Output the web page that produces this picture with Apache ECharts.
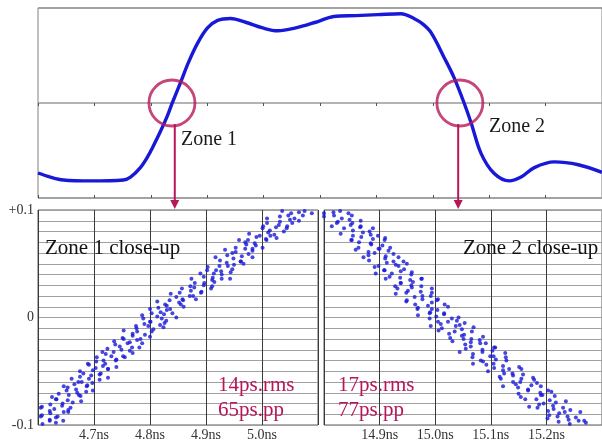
<!DOCTYPE html>
<html><head><meta charset="utf-8">
<script src="https://cdn.jsdelivr.net/npm/echarts@6/dist/echarts.min.js"></script>
<style>html,body{margin:0;padding:0;background:#fff}#c{width:602px;height:444px}</style>
</head><body><div id="c"></div><script>
// ---- data ----
const waveT = [0, 0.44, 0.9, 1.86, 3.03, 3.28, 3.63, 3.9, 4.06, 4.34, 4.58, 4.76, 5.06, 5.34, 5.66, 6.01, 6.37, 6.83, 7.36, 7.97, 8.5, 9.14, 9.85, 10.49, 11.27, 12.05, 12.87, 13.33, 13.65, 13.94, 14.4, 14.75, 15.11, 15.36, 15.71, 16.17, 16.71, 17.13, 17.6, 18.31, 19.16, 20];
const waveV = [-0.737, -0.78, -0.81, -0.82, -0.81, -0.78, -0.68, -0.56, -0.47, -0.3, -0.14, 0, 0.22, 0.43, 0.63, 0.79, 0.87, 0.89, 0.85, 0.79, 0.76, 0.79, 0.85, 0.91, 0.92, 0.93, 0.94, 0.89, 0.83, 0.74, 0.48, 0.27, 0, -0.21, -0.53, -0.74, -0.82, -0.78, -0.68, -0.62, -0.65, -0.73];
const zoneCenters = [4.75, 14.96];
const arrowX = [4.85, 14.9];
const zoneNames = ['Zone 1', 'Zone 2'];
const closeUpTitles = ['Zone 1 close-up', 'Zone 2 close-up'];
const jitterRms = ['14ps.rms', '17ps.rms'];
const jitterPp = ['65ps.pp', '77ps.pp'];
const yTickLabels = ['-0.1', '0', '+0.1'];
const zone1Range = [4.6, 5.1];
const zone2Range = [14.8, 15.3];

const zone1Points = [
[4.591,-0.097],[4.608,-0.099],[4.621,-0.096],[4.632,-0.098],
[4.590,-0.094],[4.605,-0.092],[4.621,-0.095],[4.632,-0.093],[4.645,-0.096],
[4.607,-0.091],[4.622,-0.089],[4.635,-0.092],[4.654,-0.088],
[4.605,-0.084],[4.621,-0.087],[4.629,-0.085],[4.646,-0.088],[4.654,-0.086],
[4.607,-0.083],[4.622,-0.081],[4.643,-0.082],[4.658,-0.084],
[4.633,-0.076],[4.644,-0.080],[4.653,-0.077],[4.662,-0.079],[4.677,-0.078],
[4.625,-0.074],[4.632,-0.076],[4.655,-0.072],[4.676,-0.073],
[4.637,-0.071],[4.651,-0.068],[4.670,-0.070],[4.673,-0.072],[4.686,-0.069],
[4.653,-0.065],[4.668,-0.067],[4.687,-0.064],[4.698,-0.068],
[4.646,-0.064],[4.665,-0.062],[4.672,-0.060],[4.688,-0.063],[4.697,-0.061],
[4.660,-0.057],[4.678,-0.060],[4.691,-0.057],[4.710,-0.058],
[4.675,-0.055],[4.681,-0.052],[4.695,-0.054],[4.710,-0.053],[4.725,-0.056],
[4.675,-0.050],[4.698,-0.049],[4.712,-0.052],[4.725,-0.048],
[4.691,-0.044],[4.703,-0.047],[4.716,-0.045],[4.725,-0.048],[4.740,-0.046],
[4.689,-0.043],[4.704,-0.041],[4.720,-0.043],[4.739,-0.040],
[4.705,-0.037],[4.717,-0.040],[4.731,-0.036],[4.740,-0.039],[4.755,-0.037],
[4.721,-0.034],[4.735,-0.032],[4.752,-0.036],[4.769,-0.033],
[4.715,-0.032],[4.724,-0.029],[4.749,-0.030],[4.764,-0.031],[4.768,-0.028],
[4.738,-0.025],[4.746,-0.027],[4.760,-0.024],[4.781,-0.028],
[4.736,-0.022],[4.753,-0.020],[4.764,-0.023],[4.777,-0.021],[4.786,-0.024],
[4.751,-0.019],[4.769,-0.017],[4.783,-0.020],[4.800,-0.018],
[4.753,-0.012],[4.769,-0.015],[4.777,-0.013],[4.791,-0.016],[4.803,-0.013],
[4.776,-0.010],[4.797,-0.008],[4.806,-0.011],[4.824,-0.009],
[4.775,-0.008],[4.790,-0.006],[4.801,-0.004],[4.818,-0.007],[4.826,-0.005],
[4.788,-0.001],[4.800,-0.004],[4.821,-0.001],[4.829,-0.003],
[4.786,0.002],[4.803,0.004],[4.813,0.001],[4.825,0.003],[4.847,0.000],
[4.800,0.008],[4.819,0.005],[4.830,0.007],[4.840,0.004],
[4.815,0.009],[4.830,0.011],[4.836,0.008],[4.855,0.012],[4.860,0.010],
[4.813,0.015],[4.827,0.012],[4.852,0.014],[4.859,0.016],
[4.835,0.016],[4.847,0.019],[4.858,0.017],[4.871,0.020],[4.882,0.017],
[4.837,0.022],[4.853,0.023],[4.877,0.020],[4.891,0.023],
[4.857,0.027],[4.873,0.025],[4.879,0.028],[4.892,0.024],[4.909,0.027],
[4.872,0.029],[4.880,0.032],[4.896,0.030],[4.911,0.029],
[4.874,0.036],[4.897,0.032],[4.911,0.035],[4.915,0.033],[4.928,0.036],
[4.896,0.038],[4.912,0.037],[4.928,0.040],[4.943,0.036],
[4.890,0.041],[4.902,0.044],[4.914,0.041],[4.927,0.043],[4.944,0.042],
[4.903,0.047],[4.918,0.044],[4.939,0.048],[4.947,0.045],
[4.924,0.048],[4.937,0.051],[4.950,0.049],[4.962,0.052],[4.967,0.050],
[4.917,0.056],[4.925,0.053],[4.949,0.055],[4.962,0.052],
[4.938,0.058],[4.947,0.060],[4.964,0.057],[4.976,0.059],[4.983,0.056],
[4.934,0.063],[4.953,0.061],[4.970,0.064],[4.983,0.062],
[4.953,0.065],[4.972,0.068],[4.983,0.064],[4.989,0.067],[5.001,0.065],
[4.959,0.072],[4.970,0.070],[4.987,0.069],[5.008,0.072],
[4.975,0.072],[4.990,0.075],[5.007,0.073],[5.015,0.076],[5.026,0.074],
[4.977,0.078],[4.996,0.076],[5.011,0.079],[5.022,0.077],
[5.001,0.083],[5.014,0.081],[5.025,0.084],[5.039,0.080],[5.044,0.083],
[5.002,0.085],[5.009,0.088],[5.030,0.086],[5.045,0.085],
[5.009,0.092],[5.032,0.089],[5.050,0.091],[5.054,0.088],[5.066,0.090],
[5.032,0.094],[5.047,0.095],[5.058,0.092],[5.073,0.095],
[5.036,0.099],[5.052,0.097],[5.066,0.098],[5.076,0.099],[5.089,0.097]
];

const zone2Points = [
[14.781,0.099],[14.800,0.097],[14.817,0.098],[14.829,0.099],[14.844,0.097],
[14.800,0.094],[14.818,0.095],[14.832,0.092],[14.850,0.095],
[14.797,0.092],[14.825,0.089],[14.846,0.091],[14.851,0.088],[14.866,0.090],
[14.814,0.085],[14.823,0.088],[14.848,0.086],[14.866,0.085],
[14.836,0.083],[14.852,0.081],[14.865,0.084],[14.882,0.080],[14.888,0.083],
[14.830,0.078],[14.852,0.076],[14.870,0.079],[14.884,0.077],
[14.849,0.072],[14.867,0.075],[14.888,0.073],[14.897,0.076],[14.910,0.074],
[14.850,0.072],[14.863,0.070],[14.884,0.069],[14.909,0.072],
[14.862,0.065],[14.885,0.068],[14.898,0.064],[14.905,0.067],[14.919,0.065],
[14.857,0.063],[14.880,0.061],[14.900,0.064],[14.916,0.062],
[14.880,0.058],[14.891,0.060],[14.911,0.057],[14.925,0.059],[14.934,0.056],
[14.871,0.056],[14.881,0.053],[14.910,0.055],[14.925,0.052],
[14.898,0.048],[14.913,0.051],[14.929,0.049],[14.943,0.052],[14.949,0.050],
[14.891,0.047],[14.909,0.044],[14.934,0.048],[14.944,0.045],
[14.893,0.041],[14.908,0.044],[14.922,0.041],[14.938,0.043],[14.958,0.042],
[14.918,0.038],[14.937,0.037],[14.957,0.040],[14.975,0.036],
[14.911,0.036],[14.938,0.032],[14.955,0.035],[14.960,0.033],[14.976,0.036],
[14.928,0.029],[14.938,0.032],[14.957,0.030],[14.975,0.029],
[14.932,0.027],[14.951,0.025],[14.958,0.028],[14.974,0.024],[14.994,0.027],
[14.929,0.022],[14.948,0.023],[14.977,0.020],[14.994,0.023],
[14.949,0.016],[14.963,0.019],[14.977,0.017],[14.992,0.020],[15.005,0.017],
[14.948,0.015],[14.964,0.012],[14.994,0.014],[15.003,0.016],
[14.969,0.009],[14.987,0.011],[14.994,0.008],[15.017,0.012],[15.023,0.010],
[14.968,0.008],[14.991,0.005],[15.004,0.007],[15.016,0.004],
[14.969,0.002],[14.990,0.004],[15.002,0.001],[15.016,0.003],[15.042,0.000],
[14.990,-0.001],[15.005,-0.004],[15.030,-0.001],[15.039,-0.003],
[14.992,-0.008],[15.010,-0.006],[15.023,-0.004],[15.044,-0.007],[15.053,-0.005],
[15.012,-0.010],[15.037,-0.008],[15.048,-0.011],[15.069,-0.009],
[15.006,-0.012],[15.025,-0.015],[15.035,-0.013],[15.052,-0.016],[15.066,-0.013],
[15.027,-0.019],[15.048,-0.017],[15.065,-0.020],[15.086,-0.018],
[15.031,-0.022],[15.051,-0.020],[15.064,-0.023],[15.080,-0.021],[15.091,-0.024],
[15.054,-0.025],[15.064,-0.027],[15.081,-0.024],[15.106,-0.028],
[15.044,-0.032],[15.055,-0.029],[15.085,-0.030],[15.103,-0.031],[15.108,-0.028],
[15.068,-0.034],[15.085,-0.032],[15.105,-0.036],[15.126,-0.033],
[15.067,-0.037],[15.082,-0.040],[15.099,-0.036],[15.109,-0.039],[15.127,-0.037],
[15.068,-0.043],[15.086,-0.041],[15.105,-0.043],[15.128,-0.040],
[15.092,-0.044],[15.106,-0.047],[15.122,-0.045],[15.133,-0.048],[15.151,-0.046],
[15.095,-0.050],[15.122,-0.049],[15.139,-0.052],[15.155,-0.048],
[15.116,-0.055],[15.124,-0.052],[15.140,-0.054],[15.158,-0.053],[15.176,-0.056],
[15.118,-0.057],[15.140,-0.060],[15.155,-0.057],[15.178,-0.058],
[15.122,-0.064],[15.145,-0.062],[15.153,-0.060],[15.173,-0.063],[15.183,-0.061],
[15.149,-0.065],[15.167,-0.067],[15.190,-0.064],[15.203,-0.068],
[15.150,-0.071],[15.167,-0.068],[15.189,-0.070],[15.193,-0.072],[15.209,-0.069],
[15.154,-0.074],[15.162,-0.076],[15.190,-0.072],[15.215,-0.073],
[15.182,-0.076],[15.195,-0.080],[15.206,-0.077],[15.217,-0.079],[15.235,-0.078],
[15.169,-0.083],[15.187,-0.081],[15.212,-0.082],[15.230,-0.084],
[15.184,-0.084],[15.203,-0.087],[15.213,-0.085],[15.233,-0.088],[15.243,-0.086],
[15.205,-0.091],[15.223,-0.089],[15.238,-0.092],[15.261,-0.088],
[15.202,-0.094],[15.220,-0.092],[15.240,-0.095],[15.253,-0.093],[15.268,-0.096],
[15.222,-0.097],[15.242,-0.099],[15.258,-0.096],[15.271,-0.098]
];

// ---- styles ----
const SERIF = '"Liberation Serif", "DejaVu Serif", serif';
const CRIMSON = '#b8165a';
const BLUE = '#1818d8';

const chart = echarts.init(document.getElementById('c'), null, {renderer: 'canvas'});

function yLabel(v) {
  if (Math.abs(v - 0.1) < 1e-6) return yTickLabels[2];
  if (Math.abs(v) < 1e-6) return yTickLabels[1];
  if (Math.abs(v + 0.1) < 1e-6) return yTickLabels[0];
  return '';
}

function closeXAxis(gi, range) {
  return {
    type: 'value', gridIndex: gi, min: range[0], max: range[1], interval: 0.1,
    axisLine: {show: false}, axisTick: {show: false},
    splitLine: {show: true, lineStyle: {color: '#3a3a3a', width: 1}},
    axisLabel: {
      show: true, showMinLabel: false, showMaxLabel: false, margin: 3,
      fontFamily: SERIF, fontSize: 14, color: '#333',
      formatter: v => v.toFixed(1) + 'ns'
    }
  };
}
function closeYAxis(gi, showLabels) {
  return {
    type: 'value', gridIndex: gi, min: -0.1, max: 0.1, interval: 0.01,
    axisLine: {show: false}, axisTick: {show: false},
    splitLine: {show: true, lineStyle: {color: '#a0a0a0', width: 1}},
    axisLabel: {
      show: showLabels, interval: 0, margin: 4, fontFamily: SERIF, fontSize: 14, color: '#333',
      formatter: yLabel
    }
  };
}

const option = {
  animation: false,
  backgroundColor: '#fff',
  grid: [
    {left: 38, top: 8, width: 564, height: 190, show: true, borderColor: '#808080', borderWidth: 1},
    {left: 38, top: 210, width: 280, height: 215, show: true, borderColor: '#5a5a5a', borderWidth: 1},
    {left: 324, top: 210, width: 281, height: 215, show: true, borderColor: '#5a5a5a', borderWidth: 1}
  ],
  xAxis: [
    {type: 'value', gridIndex: 0, min: 0, max: 20, interval: 2, position: 'top',
     axisLine: {show: false}, axisTick: {show: true, inside: true, length: 3, lineStyle: {color: '#555'}},
     axisLabel: {show: false}, splitLine: {show: false}},
    {type: 'value', gridIndex: 0, min: 0, max: 20, interval: 2, position: 'bottom',
     axisLine: {show: false}, axisTick: {show: true, inside: true, length: 3, lineStyle: {color: '#555'}},
     axisLabel: {show: false}, splitLine: {show: false}},
    closeXAxis(1, zone1Range),
    closeXAxis(2, zone2Range)
  ],
  yAxis: [
    {type: 'value', gridIndex: 0, min: -1, max: 1, interval: 1,
     axisLine: {show: false}, axisTick: {show: false}, axisLabel: {show: false},
     splitLine: {show: true, lineStyle: {color: '#9a9a9a', width: 1.5}}},
    closeYAxis(1, true),
    closeYAxis(2, false)
  ],
  series: [
    {type: 'line', xAxisIndex: 0, yAxisIndex: 0, data: waveT.map((t, i) => [t, waveV[i]]),
     smooth: 0.35, showSymbol: false, lineStyle: {color: BLUE, width: 3.4}, z: 3},
    {type: 'scatter', xAxisIndex: 0, yAxisIndex: 0, data: zoneCenters.map(t => [t, 0]),
     symbol: 'circle', symbolSize: 46,
     itemStyle: {color: 'rgba(0,0,0,0)', borderColor: CRIMSON, borderWidth: 2.8}, z: 4, silent: true},
    {type: 'scatter', xAxisIndex: 2, yAxisIndex: 1, data: zone1Points, symbolSize: 4,
     itemStyle: {color: BLUE}, z: 3},
    {type: 'scatter', xAxisIndex: 3, yAxisIndex: 2, data: zone2Points, symbolSize: 4,
     itemStyle: {color: BLUE}, z: 3}
  ]
};
chart.setOption(option);

// annotations: arrows from circles down to the close-up panels, and texts
const g = [];
const panelTop = chart.convertToPixel({xAxisIndex: 2, yAxisIndex: 1}, [zone1Range[0], 0.1])[1];
zoneCenters.forEach((t, i) => {
  const c = chart.convertToPixel({xAxisIndex: 0, yAxisIndex: 0}, [t, 0]);
  const ax = chart.convertToPixel({xAxisIndex: 0, yAxisIndex: 0}, [arrowX[i], 0])[0];
  const y0 = c[1] + 21;
  const tip = panelTop - 1;
  g.push({type: 'line', shape: {x1: ax, y1: y0, x2: ax, y2: tip - 7}, style: {stroke: CRIMSON, lineWidth: 2}, z: 10});
  g.push({type: 'polygon', shape: {points: [[ax - 4.5, tip - 9], [ax + 4.5, tip - 9], [ax, tip]]}, style: {fill: CRIMSON}, z: 10});
});
const txt = (x, y, s, size, color) => ({type: 'text', x: x, y: y, z: 20,
  style: {text: s, font: size + 'px ' + SERIF, fill: color, verticalAlign: 'middle', align: 'left'}});
g.push(txt(181, 140, zoneNames[0], 20, '#1a1a1a'));
g.push(txt(489, 127, zoneNames[1], 20, '#1a1a1a'));
g.push(txt(45, 248, closeUpTitles[0], 21, '#111'));
g.push(txt(463, 248, closeUpTitles[1], 21, '#111'));
g.push(txt(218, 385, jitterRms[0], 21, CRIMSON));
g.push(txt(218, 410, jitterPp[0], 21, CRIMSON));
g.push(txt(338, 385, jitterRms[1], 21, CRIMSON));
g.push(txt(338, 410, jitterPp[1], 21, CRIMSON));
chart.setOption({graphic: g});
</script></body></html>
